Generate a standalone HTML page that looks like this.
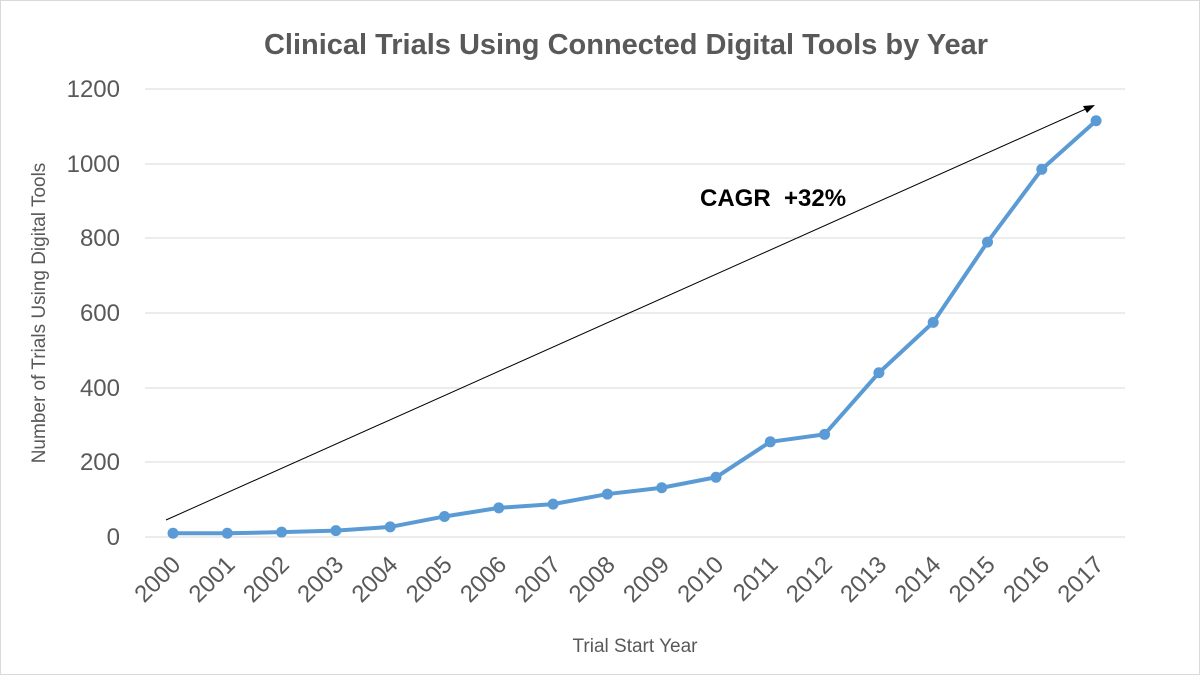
<!DOCTYPE html>
<html><head><meta charset="utf-8"><style>
body{margin:0;background:#fff;}
svg{display:block;font-family:"Liberation Sans",sans-serif;}
</style></head><body>
<svg width="1200" height="675" viewBox="0 0 1200 675">
<rect x="0.5" y="0.5" width="1199" height="674" fill="#fff" stroke="#d9d9d9"/>
<text x="626" y="54" text-anchor="middle" font-size="29" font-weight="bold" fill="#595959">Clinical Trials Using Connected Digital Tools by Year</text>
<g stroke="#d9d9d9" stroke-width="1">
<line x1="145" y1="89" x2="1125" y2="89"/>
<line x1="145" y1="164" x2="1125" y2="164"/>
<line x1="145" y1="238" x2="1125" y2="238"/>
<line x1="145" y1="313" x2="1125" y2="313"/>
<line x1="145" y1="388" x2="1125" y2="388"/>
<line x1="145" y1="462" x2="1125" y2="462"/>
<line x1="145" y1="537" x2="1125" y2="537"/>
</g>
<g font-size="24" fill="#595959" text-anchor="end">
<text x="120" y="97">1200</text>
<text x="120" y="172">1000</text>
<text x="120" y="246">800</text>
<text x="120" y="321">600</text>
<text x="120" y="396">400</text>
<text x="120" y="470">200</text>
<text x="120" y="545">0</text>
</g>
<text transform="translate(45,313) rotate(-90)" text-anchor="middle" font-size="19" fill="#595959">Number of Trials Using Digital Tools</text>
<text x="635" y="652" text-anchor="middle" font-size="19" fill="#595959">Trial Start Year</text>
<g font-size="24" fill="#595959" text-anchor="end" id="xl"></g>
<line x1="166" y1="520" x2="1088" y2="108" stroke="#000" stroke-width="1"/>
<polygon points="1095,105 1083,106 1087,113" fill="#000"/>
<text x="700" y="206" font-size="24" font-weight="bold" fill="#000">CAGR&#160;&#160;+32%</text>
<polyline id="ln" fill="none" stroke="#5b9bd5" stroke-width="4" stroke-linejoin="round"/>
<g id="pts" fill="#5b9bd5"></g>
</svg>
<script>
var v=[10,10,13,17,27,55,78,88,115,132,160,255,275,440,575,790,985,1115];
var pts=[],g=document.getElementById('pts'),xl=document.getElementById('xl'),ns="http://www.w3.org/2000/svg";
for(var i=0;i<18;i++){var x=173+i*54.3,y=537-v[i]*0.3733;pts.push(x+","+y);
var c=document.createElementNS(ns,'circle');c.setAttribute('cx',x);c.setAttribute('cy',y);c.setAttribute('r',5.5);g.appendChild(c);
var t=document.createElementNS(ns,'text');t.setAttribute('transform','translate('+(x+9)+',566) rotate(-45)');t.textContent=2000+i;xl.appendChild(t);}
document.getElementById('ln').setAttribute('points',pts.join(' '));
</script>
</body></html>
